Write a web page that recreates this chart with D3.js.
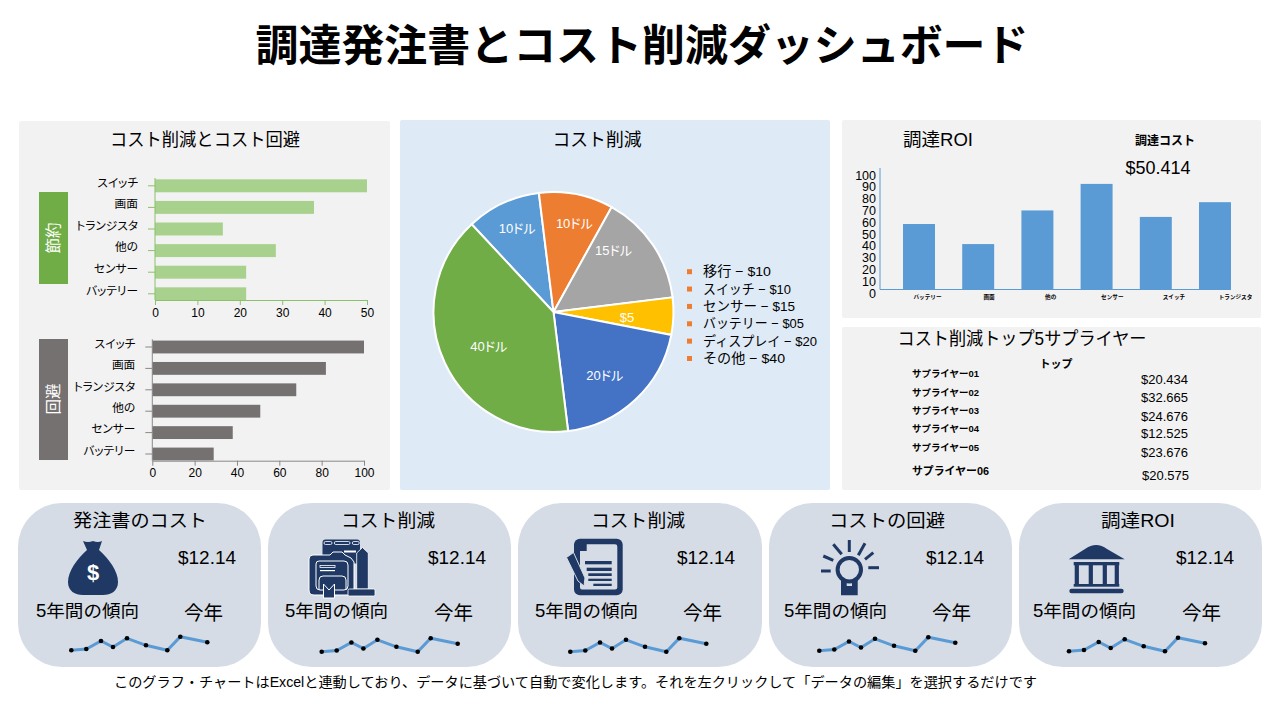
<!DOCTYPE html>
<html lang="ja">
<head>
<meta charset="utf-8">
<script src="https://cdnjs.cloudflare.com/ajax/libs/d3/7.8.5/d3.min.js"></script>
<style>
body { margin: 0; background: #fff; }
svg { display: block; }
text { font-family: "Liberation Sans", "Noto Sans CJK JP", sans-serif; fill: #000; }
.jp { font-feature-settings: "palt"; }
</style>
</head>
<body>
<svg width="1280" height="720"></svg>
<script>
// data
const savingsCats = ["スイッチ", "画面", "トランジスタ", "他の", "センサー", "バッテリー"]
const savingsVals = [50, 37.5, 16, 28.5, 21.5, 21.5]
const avoidVals = [100, 82, 68, 51, 38, 29]

const pieNames = ["移行", "スイッチ", "センサー", "バッテリー", "ディスプレイ", "その他"]
const pieVals = [10, 10, 15, 5, 20, 40]
const pieLabels = ["10ドル", "10ドル", "15ドル", "$5", "20ドル", "40ドル"]
const pieLegend = ["移行 − $10", "スイッチ − $10", "センサー − $15", "バッテリー − $05", "ディスプレイ − $20", "その他 − $40"]
const pieColors = ["#5b9bd5", "#ed7d31", "#a5a5a5", "#ffc000", "#4472c4", "#70ad47"]

const roiCats = ["バッテリー", "画面", "他の", "センサー", "スイッチ", "トランジスタ"]
const roiVals = [55.5, 38.5, 67, 89.5, 61.5, 74]
const roiTicks = [0, 10, 20, 30, 40, 50, 60, 70, 80, 90, 100]

const supplierNames = ["サプライヤー01", "サプライヤー02", "サプライヤー03", "サプライヤー04", "サプライヤー05", "サプライヤー06"]
const supplierVals = ["$20.434", "$32.665", "$24.676", "$12.525", "$23.676", "$20.575"]

const kpiTitles = ["発注書のコスト", "コスト削減", "コスト削減", "コストの回避", "調達ROI"]
const kpiValue = "$12.14"
const trendX = [0, 15, 29.7, 41.7, 55.7, 74.7, 96, 109, 136]
const trendVals = [2, 3.3, 11.3, 5.3, 14, 7, 2, 15.6, 10]

const svg = d3.select("svg")
const NAVY = "#1f3864"
const CARD = "#d6dce5"

function label(x, y, str, size, opts = {}) {
    const t = svg.append("text")
        .attr("x", x).attr("y", y)
        .attr("font-size", size)
        .attr("text-anchor", opts.anchor || "start")
        .attr("dominant-baseline", "central")
        .attr("font-weight", opts.bold ? 700 : 400)
        .style("fill", opts.fill || "#000")
        .text(str)
    if (opts.len) t.attr("textLength", opts.len).attr("lengthAdjust", "spacingAndGlyphs")
    return t
}

// panels
const panels = [
    [19, 121, 371, 369, "#f2f2f2"],
    [400, 120, 430, 370, "#deeaf6"],
    [842, 120, 419, 198, "#f2f2f2"],
    [842, 327, 419, 163, "#f2f2f2"]
]
svg.selectAll("rect.panel").data(panels).enter().append("rect")
    .attr("class", "panel")
    .attr("x", d => d[0]).attr("y", d => d[1])
    .attr("width", d => d[2]).attr("height", d => d[3])
    .attr("rx", 2)
    .attr("fill", d => d[4])

label(642, 46, "調達発注書とコスト削減ダッシュボード", 43, { anchor: "middle", bold: true, len: 773 })
label(205, 140, "コスト削減とコスト回避", 18, { anchor: "middle", len: 190 })
label(597, 140, "コスト削減", 18, { anchor: "middle", len: 89 })
label(938, 140, "調達ROI", 18, { anchor: "middle", len: 70 })
label(1165, 141, "調達コスト", 12.5, { anchor: "middle", bold: true, len: 60 })
label(1158, 168, "$50.414", 18, { anchor: "middle", len: 65 })
label(1022, 339, "コスト削減トップ5サプライヤー", 18, { anchor: "middle", len: 249 })
label(1056, 364, "トップ", 11, { anchor: "middle", bold: true })

// horizontal bars
function hbars(cfg) {
    const x = d3.scaleLinear().domain([0, cfg.max]).range([cfg.x0, cfg.x1])
    const y = d3.scaleBand().domain(savingsCats).range([cfg.top, cfg.bottom]).paddingInner(0.4).paddingOuter(0.2)

    svg.append("g").selectAll("rect")
        .data(cfg.vals)
        .enter()
        .append("rect")
        .attr("x", x(0))
        .attr("y", (d, i) => y(savingsCats[i]))
        .attr("width", d => x(d) - x(0))
        .attr("height", y.bandwidth())
        .attr("fill", cfg.fill)

    const yAxis = svg.append("g")
        .attr("transform", `translate(${cfg.x0},0)`)
        .call(d3.axisLeft(y).tickSize(7).tickPadding(cfg.pad))
    yAxis.select(".domain").remove()
    yAxis.selectAll("line").attr("stroke", cfg.axis)
    yAxis.selectAll("text").attr("class", "jp").attr("font-size", 11.7).attr("y", -3)
        .attr("font-family", null)

    const xAxis = svg.append("g")
        .attr("transform", `translate(0,${cfg.base})`)
        .call(d3.axisBottom(x).tickValues(cfg.ticks).tickSize(5).tickPadding(3).tickSizeOuter(0))
    xAxis.select(".domain").attr("stroke", cfg.axis)
    xAxis.selectAll("line").attr("stroke", cfg.axis)
    xAxis.selectAll("text").attr("font-size", 12).attr("font-family", null)

    svg.append("line")
        .attr("x1", cfg.x0).attr("x2", cfg.x0)
        .attr("y1", cfg.top + 3).attr("y2", cfg.base)
        .attr("stroke", cfg.axis)
}

hbars({ vals: savingsVals, max: 50, x0: 155, x1: 367, top: 175, bottom: 304.6, base: 300,
    ticks: [0, 10, 20, 30, 40, 50], fill: "#a9d18e", axis: "#8cc06a", pad: 10 })
hbars({ vals: avoidVals, max: 100, x0: 152.3, x1: 364, top: 336.3, bottom: 464.7, base: 460.7,
    ticks: [0, 20, 40, 60, 80, 100], fill: "#767171", axis: "#8a8787", pad: 10 })

// side tags
svg.append("rect").attr("x", 39).attr("y", 192).attr("width", 29).attr("height", 92).attr("fill", "#70ad47")
svg.append("rect").attr("x", 39).attr("y", 339).attr("width", 29).attr("height", 121).attr("fill", "#767171")
label(0, 0, "節約", 15.5, { anchor: "middle", fill: "#fff" }).attr("transform", "translate(53,238) rotate(-90)")
label(0, 0, "回避", 15.5, { anchor: "middle", fill: "#fff" }).attr("transform", "translate(53,399) rotate(-90)")

// pie
const pieGen = d3.pie().sort(null).startAngle(-43 * Math.PI / 180).endAngle(317 * Math.PI / 180)
const arcs = pieGen(pieVals)
const arcGen = d3.arc().innerRadius(0).outerRadius(120)
const pieG = svg.append("g").attr("transform", "translate(553.5,312)")
pieG.selectAll("path")
    .data(arcs)
    .enter()
    .append("path")
    .attr("d", arcGen)
    .attr("fill", (d, i) => pieColors[i])
    .attr("stroke", "#fff")
    .attr("stroke-width", 2)

// labels sit on a ring, then get nudged the way the original was placed
const labelRadius = [92, 91, 85, 73, 76, 73]
const labelNudge = [[2.5, 0], [3.5, 1], [-10.5, -14], [0.5, 3], [-0.5, 8], [1.5, 4]]
pieG.selectAll("text")
    .data(arcs)
    .enter()
    .append("text")
    .attr("transform", (d, i) => {
        const a = (d.startAngle + d.endAngle) / 2
        const px = Math.sin(a) * labelRadius[i] + labelNudge[i][0]
        const py = -Math.cos(a) * labelRadius[i] + labelNudge[i][1]
        return `translate(${px},${py})`
    })
    .attr("text-anchor", "middle")
    .attr("dominant-baseline", "central")
    .attr("font-size", 13)
    .attr("class", "jp")
    .style("fill", "#fff")
    .text((d, i) => pieLabels[i])

const legendY = d3.scalePoint().domain(pieNames).range([271.7, 358.5])
svg.append("g").selectAll("rect")
    .data(pieNames)
    .enter()
    .append("rect")
    .attr("x", 687).attr("y", d => legendY(d) - 2.5)
    .attr("width", 5).attr("height", 5)
    .attr("fill", "#ed7d31")
const legendLen = [68, 88, 92, 101, 114, 82]
pieLegend.forEach((d, i) => {
    label(703, legendY(pieNames[i]), d, 13.5, { len: legendLen[i] })
})

// ROI columns
const roiX = d3.scaleBand().domain(roiCats).range([889.4, 1244.6]).paddingInner(0.46).paddingOuter(0.23)
const roiY = d3.scaleLinear().domain([0, 100]).range([289.5, 171.5])
const roiLabelX = d3.scalePoint().domain(roiCats).range([927, 1235])

svg.append("g").selectAll("rect")
    .data(roiVals)
    .enter()
    .append("rect")
    .attr("x", (d, i) => roiX(roiCats[i]))
    .attr("y", d => roiY(d))
    .attr("width", roiX.bandwidth())
    .attr("height", d => roiY(0) - roiY(d))
    .attr("fill", "#5b9bd5")

const roiAxis = svg.append("g")
    .attr("transform", "translate(880,0)")
    .call(d3.axisLeft(roiY).tickValues(roiTicks).tickSize(0).tickPadding(4))
roiAxis.select(".domain").remove()
roiAxis.selectAll("text").attr("font-size", 12.5).attr("font-family", null).attr("y", 3.5)

svg.append("line").attr("x1", 880).attr("x2", 880).attr("y1", 168).attr("y2", 289.5).attr("stroke", "#5b9bd5")
svg.append("line").attr("x1", 880).attr("x2", 1231).attr("y1", 289.5).attr("y2", 289.5).attr("stroke", "#5b9bd5")

const roiBottom = svg.append("g")
    .attr("transform", "translate(0,297)")
    .call(d3.axisBottom(roiLabelX).tickSize(0).tickPadding(0))
roiBottom.select(".domain").remove()
roiBottom.selectAll("text").attr("font-size", 5.6).attr("font-weight", 700).attr("font-family", null).attr("y", 0).attr("dy", "0.35em")

// supplier table
const supplierNameY = [373, 392, 410, 428.5, 447.5, 471]
const supplierValY = [379, 397.7, 416, 433.7, 452.7, 475]
supplierNames.forEach((d, i) => {
    label(912, supplierNameY[i], d, i === 5 ? 11 : 9.5, { bold: true, len: i === 5 ? 77 : 67 })
    label(1141 + (i === 5 ? 1 : 0), supplierValY[i], supplierVals[i], 13, { len: 47 })
})

// KPI cards
const cardX = [18, 268, 518, 769, 1019]
const cardW = [243, 243, 244, 243, 243]
const titleX = [140, 388, 638, 887, 1138]
const titleLen = [134, 94, 94, 116, 74]
const valueX = [178, 428, 677, 926, 1176]
const trendTextX = [36, 285, 535, 784, 1033]
const yearX = [184, 434, 683, 932, 1182]
const sparkX = [71.3, 321.7, 570.3, 819.3, 1069]
const sparkDy = [0, 1.5, 1.5, 0.5, 1]

const sx = d3.scaleLinear().domain([0, 136]).range([0, 136])
const sy = d3.scaleLinear().domain([0, 16]).range([652.3, 636.3])
const sparkLine = d3.line().x((d, i) => sx(trendX[i])).y(d => sy(d))

cardX.forEach((x, c) => {
    svg.append("rect")
        .attr("x", x).attr("y", 503)
        .attr("width", cardW[c]).attr("height", 164)
        .attr("rx", 44)
        .attr("fill", CARD)
    label(titleX[c], 521, kpiTitles[c], 18, { anchor: "middle", len: titleLen[c] })
    label(valueX[c], 557, kpiValue, 19, { len: 58 })
    label(trendTextX[c], 611, "5年間の傾向", 17.5, { len: 103 })
    label(yearX[c], 613, "今年", 19.5, { len: 39 })

    const spark = svg.append("g").attr("transform", `translate(${sparkX[c]},${sparkDy[c]})`)
    spark.append("path")
        .datum(trendVals)
        .attr("d", sparkLine)
        .attr("fill", "none")
        .attr("stroke", "#5b9bd5")
        .attr("stroke-width", 3)
    spark.selectAll("circle")
        .data(trendVals)
        .enter()
        .append("circle")
        .attr("cx", (d, i) => sx(trendX[i]))
        .attr("cy", d => sy(d))
        .attr("r", 2.3)
        .attr("fill", "#000")
})

// icons
const bag = svg.append("g").attr("transform", "translate(93,541)")
bag.append("path")
    .attr("d", "M-10,0 Q-5,2 0,0 Q5,2 9,0 L6,9 C16,18 25,30 25,41 C25,50 18,54 10,54 L-10,54 C-18,54 -25,50 -25,41 C-25,30 -16,18 -6,9 Z")
    .attr("fill", NAVY)
label(0, 0, "$", 22, { anchor: "middle", bold: true, fill: "#fff" }).attr("transform", "translate(93,572)")

const mach = svg.append("g").attr("fill", NAVY)
mach.append("rect").attr("x", 322.5).attr("y", 539.5).attr("width", 37.5).attr("height", 24).attr("rx", 3)
;[[324, 8], [334.3, 15.7], [352.3, 7]].forEach(d => {
    mach.append("rect").attr("x", d[0]).attr("y", 541.5).attr("width", d[1]).attr("height", 3).attr("rx", 1.5)
        .attr("fill", "none").attr("stroke", "#fff").attr("stroke-width", 0.8)
})
mach.append("rect").attr("x", 344).attr("y", 550.5).attr("width", 12).attr("height", 2).attr("fill", "#fff")
mach.append("path").attr("d", "M313,555 L330,555 L333,552 L342,552 L345,555 L351,558 L354,562 L354,595 L314,595 Q309,595 309,590 L309,559 Q309,555 313,555 Z")
    .attr("stroke", "#fff").attr("stroke-width", 1)
mach.append("path").attr("d", "M319,561 L344,561 Q348,561 348,565 L348,586 Q348,590 344,590 L320,590 Q316,590 316,586 L316,564 Q316,561 319,561 Z")
    .attr("fill", "none").attr("stroke", "#fff").attr("stroke-width", 1)
mach.append("rect").attr("x", 320).attr("y", 565.5).attr("width", 15).attr("height", 2).attr("fill", "none").attr("stroke", "#fff").attr("stroke-width", 0.8)
mach.append("rect").attr("x", 320).attr("y", 570).attr("width", 15).attr("height", 1.2).attr("fill", "#fff")
mach.append("path").attr("d", "M319,590 L319,580 Q319,576 323,576 L342,576 Q346,576 346,580 L346,590").attr("fill", "none").attr("stroke", "#fff").attr("stroke-width", 1)
mach.append("path").attr("d", "M323.5,598 L323.5,584 L329,590 L334.5,584 L334.5,598 Z").attr("stroke", "#fff").attr("stroke-width", 1)
mach.append("path").attr("d", "M356.7,553 L362.5,547.5 L368.3,553 L368.3,589 L356.7,589 Z").attr("stroke", "#fff").attr("stroke-width", 0.8)
mach.append("rect").attr("x", 348).attr("y", 589).attr("width", 27).attr("height", 7).attr("rx", 1.5).attr("stroke", "#fff").attr("stroke-width", 0.8)

const doc = svg.append("g")
doc.append("rect").attr("x", 574).attr("y", 538.7).attr("width", 48.7).attr("height", 56.6).attr("rx", 6).attr("fill", NAVY)
doc.append("path").attr("d", "M586.7,544.3 L615,544.3 Q617.3,544.3 617.3,546.6 L617.3,587.5 Q617.3,589.5 615,589.5 L582,589.5 Q580,589.5 580,587.5 L580,551 L586.7,551 Z").attr("fill", CARD)
const docLines = [[585, 561, 26.7, 3.3], [586.7, 567.7, 25, 3.3], [588.3, 573.3, 23.4, 2.7], [588.3, 578.7, 23.4, 2.3], [593.3, 583.7, 18.4, 2.3]]
docLines.forEach(d => {
    doc.append("rect").attr("x", d[0]).attr("y", d[1]).attr("width", d[2]).attr("height", d[3]).attr("fill", NAVY)
})
doc.append("path").attr("d", "M566.5,557.5 L573.5,552.5 L585,578 L584,586 L578,581 Z").attr("fill", NAVY).attr("stroke", CARD).attr("stroke-width", 1)

const bulb = svg.append("g").attr("stroke", NAVY).attr("stroke-linecap", "butt").attr("fill", "none")
bulb.append("circle").attr("cx", 849.3).attr("cy", 569.7).attr("r", 11.7).attr("stroke-width", 4)
const rays = [
    [821, 571, 830.7, 571], [868.3, 567.7, 879, 567.7], [849.3, 540, 849.3, 552],
    [833.3, 544.3, 841.7, 554.3], [865, 543.3, 858.3, 555.3], [823.3, 556, 833.3, 560.3], [873.3, 552.7, 865, 559.3]
]
bulb.selectAll("line").data(rays).enter().append("line")
    .attr("x1", d => d[0]).attr("y1", d => d[1]).attr("x2", d => d[2]).attr("y2", d => d[3])
    .attr("stroke-width", 3)
svg.append("path").attr("d", "M841,595.3 L841,579 L846.7,581 L846.7,586 L852,586 L852,581 L857.7,579 L857.7,595.3 Z").attr("fill", NAVY)

const bank = svg.append("g").attr("fill", NAVY)
bank.append("path").attr("d", "M1068.7,559.3 L1085,549 Q1096.3,541 1107,549 L1124.7,559.3 Z")
bank.append("rect").attr("x", 1073.7).attr("y", 562).attr("width", 45.6).attr("height", 3.3)
;[1074.7, 1088.7, 1102.7, 1114.7].forEach(x => {
    bank.append("rect").attr("x", x).attr("y", 565).attr("width", 4.2).attr("height", 19)
})
bank.append("rect").attr("x", 1073.7).attr("y", 584).attr("width", 45.6).attr("height", 2.7)
bank.append("rect").attr("x", 1069.3).attr("y", 588.7).attr("width", 54.4).attr("height", 4.6).attr("rx", 2.3)

label(114, 682, "このグラフ・チャートはExcelと連動しており、データに基づいて自動で変化します。それを左クリックして「データの編集」を選択するだけです", 14, { len: 923 })
</script>
</body>
</html>
